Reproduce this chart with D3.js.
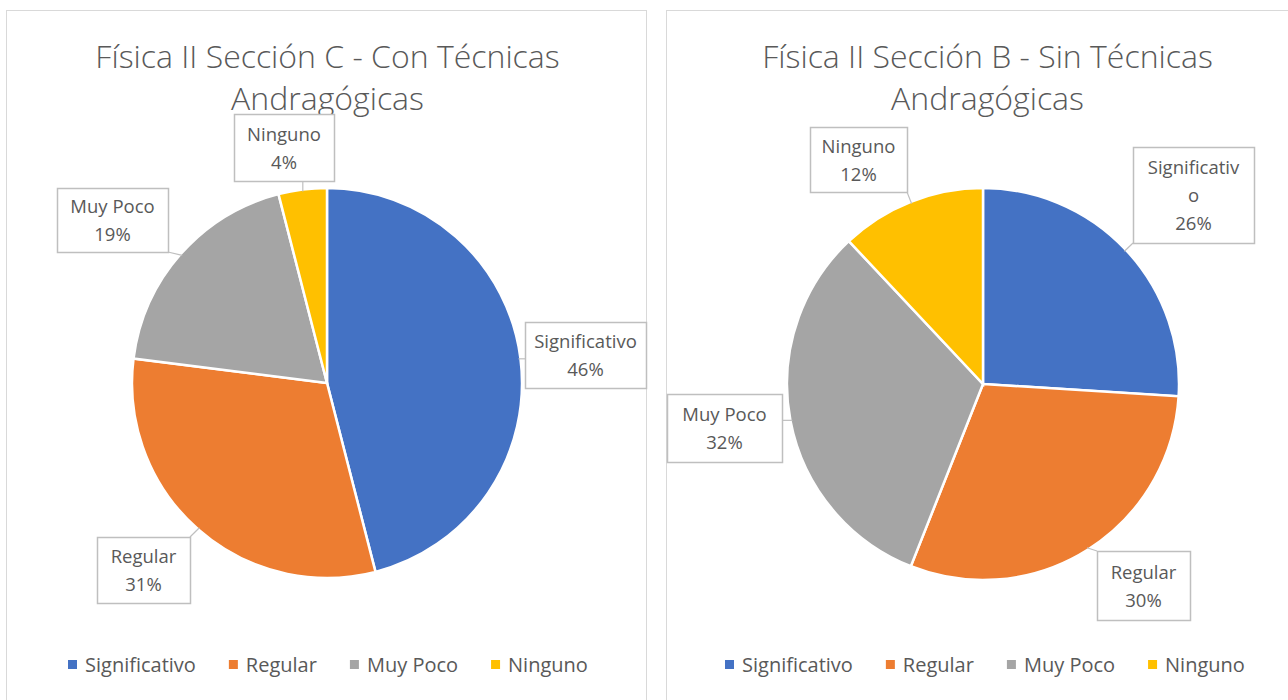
<!DOCTYPE html>
<html>
<head>
<meta charset="utf-8">
<script src="https://d3js.org/d3.v7.min.js"></script>
<style>
  body { margin: 0; background: #fff; }
  text { font-family: "Open Sans", sans-serif; fill: #595959; }
</style>
</head>
<body>
<script>
var categories = ["Significativo", "Regular", "Muy Poco", "Ninguno"];
var seccionC = [46, 31, 19, 4];
var seccionB = [26, 30, 32, 12];
var titleC = ["Física II Sección C - Con Técnicas", "Andragógicas"];
var titleB = ["Física II Sección B - Sin Técnicas", "Andragógicas"];

var color = d3.scaleOrdinal()
    .domain(categories)
    .range(["#4472c4", "#ed7d31", "#a5a5a5", "#ffc000"]);

var width = 1288, height = 700;

var svg = d3.select("body").append("svg")
    .attr("width", width)
    .attr("height", height);

// label box layout per chart: [x, y, w, h] and the text lines to show
var charts = [
  {
    title: titleC, values: seccionC,
    frame: [6.5, 10.5, 640, 720], cx: 327, cy: 383, r: 195,
    boxes: [[525, 322, 121, 66], [97, 537, 93, 66], [57, 188, 111, 64], [234, 114, 100, 67]],
    names: [["Significativo"], ["Regular"], ["Muy Poco"], ["Ninguno"]],
    legendX: 68
  },
  {
    title: titleB, values: seccionB,
    frame: [666.5, 10.5, 640, 720], cx: 983, cy: 384, r: 196,
    boxes: [[1133, 147, 121, 96], [1097, 551, 93, 69], [667, 394, 115, 68], [810, 127, 97, 65]],
    names: [["Significativ", "o"], ["Regular"], ["Muy Poco"], ["Ninguno"]],
    legendX: 725
  }
];

charts.forEach(function(c) {
  var g = svg.append("g");

  g.append("rect")
      .attr("x", c.frame[0]).attr("y", c.frame[1])
      .attr("width", c.frame[2]).attr("height", c.frame[3])
      .attr("fill", "#fff")
      .attr("stroke", "#d9d9d9");

  var midX = c.frame[0] + 321;
  g.selectAll(".title")
      .data(c.title)
    .enter().append("text")
      .attr("class", "title")
      .attr("x", midX)
      .attr("y", (d, i) => 68 + i * 42)
      .attr("text-anchor", "middle")
      .style("font-size", "32px")
      .style("font-weight", 300)
      .text((d) => d);

  var pie = d3.pie().sort(null).value((d) => d.value);
  var arcs = pie(categories.map((k, i) => ({name: k, value: c.values[i], idx: i})));
  var arc = d3.arc().innerRadius(0).outerRadius(c.r);

  var pg = g.append("g").attr("transform", `translate(${c.cx},${c.cy})`);
  pg.selectAll("path")
      .data(arcs)
    .enter().append("path")
      .attr("d", arc)
      .attr("fill", (d) => color(d.data.name))
      .attr("stroke", "#fff")
      .attr("stroke-width", 2.5);

  // callouts
  arcs.forEach(function(d, i) {
    var b = c.boxes[i];
    var a = (d.startAngle + d.endAngle) / 2;
    var px = c.cx + Math.sin(a) * (c.r - 2),
        py = c.cy - Math.cos(a) * (c.r - 2);
    var bx = Math.max(b[0], Math.min(px, b[0] + b[2])),
        by = Math.max(b[1], Math.min(py, b[1] + b[3]));
    var inside = px > b[0] && px < b[0] + b[2] && py > b[1] && py < b[1] + b[3];
    if (!inside && Math.hypot(px - bx, py - by) > 4) {
      g.append("line")
          .attr("x1", bx).attr("y1", by)
          .attr("x2", px).attr("y2", py)
          .attr("stroke", "#bfbfbf")
          .attr("stroke-width", 1.2);
    }
    g.append("rect")
        .attr("x", b[0] + 0.5).attr("y", b[1] + 0.5)
        .attr("width", b[2]).attr("height", b[3])
        .attr("fill", "#fff")
        .attr("stroke", "#bfbfbf")
        .attr("stroke-width", 1.5);
    var lines = c.names[i].concat([d.data.value + "%"]);
    var lh = 28;
    var y0 = b[1] + b[3] / 2 - (lines.length - 1) * lh / 2 + 7;
    g.append("text")
        .attr("text-anchor", "middle")
        .style("font-size", "18.5px")
        .selectAll("tspan")
        .data(lines)
      .enter().append("tspan")
        .attr("x", b[0] + b[2] / 2)
        .attr("y", (t, j) => y0 + j * lh)
        .text((t) => t);
  });

  // legend
  var lg = g.append("g").attr("transform", `translate(${c.legendX},665)`);
  var x = 0;
  categories.forEach(function(k) {
    var item = lg.append("g").attr("transform", `translate(${x},0)`);
    item.append("rect")
        .attr("x", 0).attr("y", -5)
        .attr("width", 9).attr("height", 9)
        .attr("fill", color(k));
    var t = item.append("text")
        .attr("x", 17).attr("y", 7)
        .style("font-size", "20px")
        .text(k);
    x += 17 + t.node().getComputedTextLength() + 33;
  });
});
</script>
</body>
</html>
